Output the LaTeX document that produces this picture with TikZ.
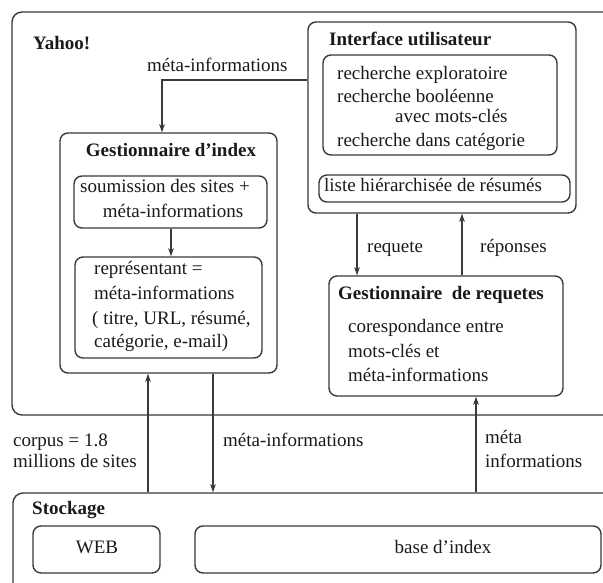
\documentclass[tikz,border=0pt]{standalone}
\usepackage{fontspec}
\setmainfont{Liberation Serif}
\usetikzlibrary{fit,arrows.meta,calc}
\definecolor{linec}{HTML}{3A3A3A}
\definecolor{textc}{HTML}{1A1A1A}
\begin{document}
\begin{tikzpicture}[x=1pt,y=-1pt,
  box/.style={draw=linec, line width=1.4pt, rounded corners=8pt, inner sep=0pt},
  bigbox/.style={box, rounded corners=10pt},
  arr/.style={draw=linec, line width=1.2pt, -{Stealth[length=8pt,width=5.5pt,inset=2pt]}},
  txt/.style={font=\fontsize{19}{23}\selectfont, inner sep=0pt, text=textc, text height=13pt, text depth=4pt},
  ttl/.style={txt, font=\fontsize{19}{23}\selectfont\bfseries},
]
\path[use as bounding box, fill=white] (0,0) rectangle (603,582);

% boxes
\node[bigbox, fit={(12,12) (640,415)}] (yahoo) {};
\node[bigbox, fit={(13,493) (640,620)}] (stock) {};
\node[box, fit={(308,22) (576,213)}] (ui) {};
\node[box, fit={(323,55) (557,155)}] (uiA) {};
\node[box, fit={(319,175) (570,202)}] (uiB) {};
\node[box, fit={(60,133) (277,373)}] (gidx) {};
\node[box, fit={(74,176) (267,228)}] (gA) {};
\node[box, fit={(75,257) (262,358)}] (gB) {};
\node[box, fit={(329,276) (563,396)}] (greq) {};
\node[box, fit={(33,526) (160,573)}] (web) {};
\node[box, fit={(195,526) (601,573)}] (base) {};

% titles and texts
\node[ttl, anchor=west] (tyahoo) at (33,45) {Yahoo!};
\node[ttl, anchor=west] (tui) at (329,41) {Interface utilisateur};
\node[txt, anchor=west] (u1) at (337,75) {recherche exploratoire};
\node[txt, anchor=west] (u2) at (337,98) {recherche booléenne};
\node[txt, anchor=west] (u3) at (395,118) {avec mots-clés};
\node[txt, anchor=west] (u4) at (337,142) {recherche dans catégorie};
\node[txt] (u5) at (433,187) {liste hiérarchisée de résumés};

\node[ttl] (tgidx) at (171,152) {Gestionnaire d’index};
\node[txt] (a1) at (165,188) {soumission des sites +};
\node[txt] (a2) at (173,213) {méta-informations};
\node[txt, anchor=west] (b1) at (94,270) {représentant =};
\node[txt, anchor=west] (b2) at (94,295) {méta-informations};
\node[txt, anchor=west] (b3) at (92,320) {( titre, URL, résumé,};
\node[txt, anchor=west] (b4) at (94,343) {catégorie, e-mail)};

\node[ttl, anchor=west] (tgreq) at (338,295) {Gestionnaire~ de requetes};
\node[txt, anchor=west] (r1) at (348,328) {corespondance entre};
\node[txt, anchor=west] (r2) at (348,353) {mots-clés et};
\node[txt, anchor=west] (r3) at (348,377) {méta-informations};

\node[ttl, anchor=west] (tstock) at (32,510) {Stockage};
\node[txt] (tweb) at (97,549) {WEB};
\node[txt] (tbase) at (443,549) {base d’index};

% labels
\node[txt, anchor=west] (lmeta1) at (147,67) {méta-informations};
\node[txt, anchor=west] (lreq) at (367,248) {requete};
\node[txt, anchor=west] (lrep) at (480,248) {réponses};
\node[txt, anchor=west] (lc1) at (13,442) {corpus = 1.8};
\node[txt, anchor=west] (lc2) at (13,463) {millions de sites};
\node[txt, anchor=west] (lm2) at (223,442) {méta-informations};
\node[txt, anchor=west] (lm3a) at (485,439) {méta};
\node[txt, anchor=west] (lm3b) at (485,463) {informations};

% connector positions
\coordinate (ymeta) at (0,80);
\coordinate (xm) at (162,0);
\coordinate (xab) at (171,0);
\coordinate (xc) at (148,0);
\coordinate (xd) at (213,0);
\coordinate (xr) at (476,0);
\coordinate (xreq) at (357,0);
\coordinate (xrep) at (462,0);

% connectors
\draw[arr] (ui.west |- ymeta) -| (gidx.north -| xm);
\draw[arr] (gA.south -| xab) -- (gB.north -| xab);
\draw[arr] (ui.south -| xreq) -- (greq.north -| xreq);
\draw[arr] (greq.north -| xrep) -- (ui.south -| xrep);
\draw[arr] (stock.north -| xc) -- (gidx.south -| xc);
\draw[arr] (gidx.south -| xd) -- (stock.north -| xd);
\draw[arr] (stock.north -| xr) -- (greq.south -| xr);
\end{tikzpicture}
\end{document}
